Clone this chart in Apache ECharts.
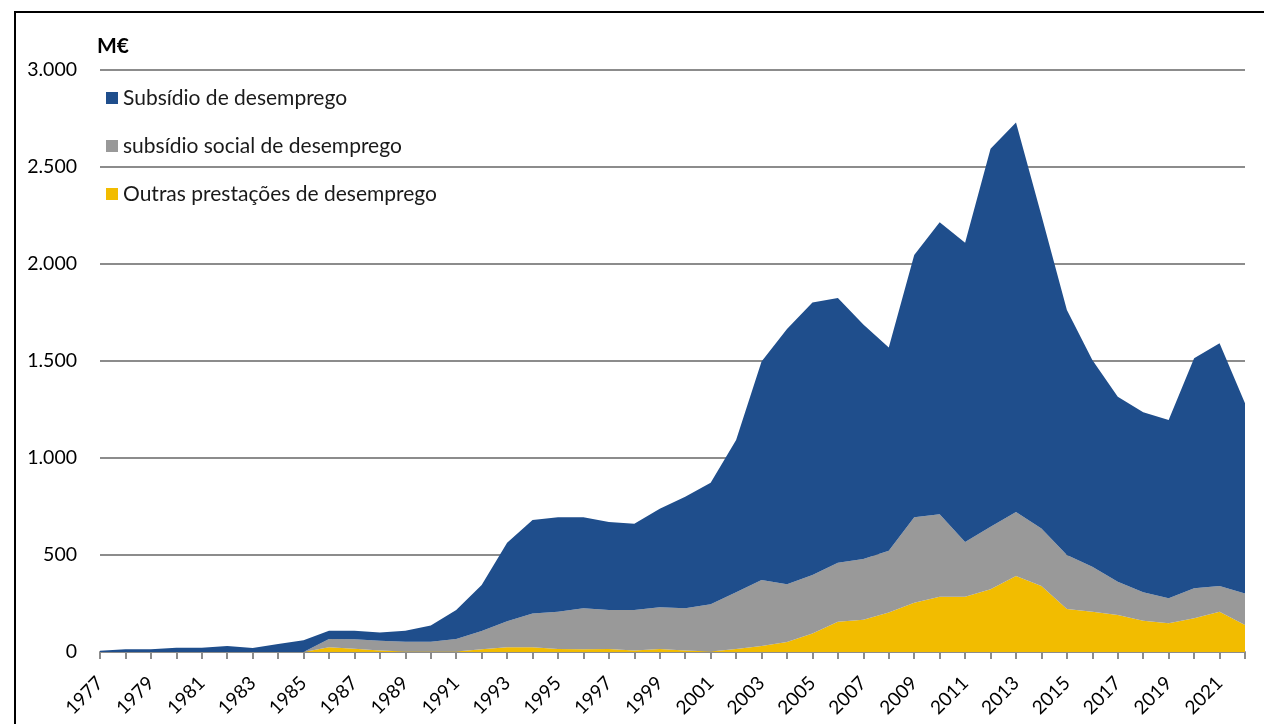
<!DOCTYPE html>
<html>
<head>
<meta charset="utf-8">
<script src="https://cdn.jsdelivr.net/npm/echarts@6/dist/echarts.min.js"></script>
<style>
html,body{margin:0;padding:0;background:#fff;}
#chart{width:1264px;height:724px;}
</style>
</head>
<body>
<div id="chart"></div>
<script>
const years = ['1977','1978','1979','1980','1981','1982','1983','1984','1985','1986','1987','1988','1989','1990','1991','1992','1993','1994','1995','1996','1997','1998','1999','2000','2001','2002','2003','2004','2005','2006','2007','2008','2009','2010','2011','2012','2013','2014','2015','2016','2017','2018','2019','2020','2021','2022'];

const subsidioDesemprego = [6,14,14,22,22,31,21,41,60,43,44,43,57,84,149,237,405,481,486,469,454,445,507,575,627,785,1126,1316,1404,1365,1209,1048,1352,1505,1543,1948,2008,1614,1263,1065,954,928,919,1186,1251,980];

const subsidioSocial = [0,0,0,0,0,0,0,0,0,43,49,50,50,51,64,94,134,175,193,211,201,208,216,217,243,293,340,297,301,304,313,319,440,425,282,323,330,296,278,232,171,147,129,154,132,163];

const outrasPrestacoes = [0,0,0,0,0,0,0,0,0,24,17,8,3,2,3,14,24,24,15,14,15,8,15,8,3,15,31,52,96,156,166,203,254,285,285,323,392,340,222,208,191,161,148,174,208,139];

const yTicks = [0,500,1000,1500,2000,2500,3000];

const names = ['Subsídio de desemprego','subsídio social de desemprego','Outras prestações de desemprego'];
const colors = ['#1F4E8C','#999999','#F2BC00'];

const fontFam = 'Lato, "Open Sans", sans-serif';

function fmt(v){
  return String(v).replace(/\B(?=(\d{3})+(?!\d))/g,'.');
}

const chart = echarts.init(document.getElementById('chart'));
function mk(name, data, color){
  return {
    name: name, type:'line', stack:'total', data:data,
    symbol:'none', showSymbol:false,
    lineStyle:{width:0, color:color},
    itemStyle:{color:color},
    areaStyle:{color:color, opacity:1},
    animation:false
  };
}
chart.setOption({
  animation:false,
  backgroundColor:'#fff',
  graphic:[
    {type:'rect', shape:{x:15,y:12,width:1400,height:900}, style:{fill:'none', stroke:'#000', lineWidth:2}, silent:true},
    {type:'text', left:97, top:36, style:{text:'M€', font:'bold 21px '+fontFam, fill:'#000'}}
  ],
  grid:{left:100, right:19, top:70, bottom:72},
  legend:{
    orient:'vertical', left:101, top:82, itemGap:26,
    itemWidth:12, itemHeight:12, icon:'rect',
    data:names,
    textStyle:{fontSize:21, fontFamily:fontFam, color:'#1a1a1a', lineHeight:22}
  },
  xAxis:{
    type:'category', data:years, boundaryGap:false,
    axisLine:{lineStyle:{color:'#8c8c8c', width:2}},
    axisTick:{show:true, interval:0, length:7, lineStyle:{color:'#8c8c8c', width:2}},
    axisLabel:{interval:1, rotate:45, margin:28, fontSize:19, fontFamily:fontFam, color:'#000'}
  },
  yAxis:{
    type:'value', min:yTicks[0], max:yTicks[yTicks.length-1], interval:500,
    axisLine:{show:false}, axisTick:{show:false},
    splitLine:{lineStyle:{color:'#8c8c8c', width:2}},
    axisLabel:{margin:23, fontSize:19.5, fontFamily:fontFam, color:'#000', formatter:fmt}
  },
  series:[
    mk(names[2], outrasPrestacoes, colors[2]),
    mk(names[1], subsidioSocial, colors[1]),
    mk(names[0], subsidioDesemprego, colors[0])
  ]
});
</script>
</body>
</html>
